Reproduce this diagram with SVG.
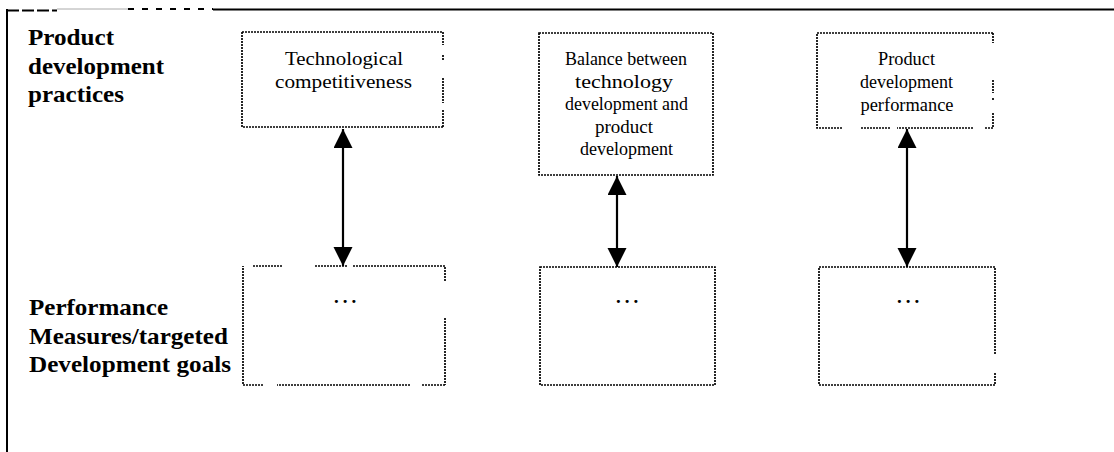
<svg xmlns="http://www.w3.org/2000/svg" width="1114" height="452" viewBox="0 0 1114 452">
  <style>
    .label { font-family: "Liberation Serif", "Times New Roman", serif; font-size: 23px; font-weight: bold; fill: #000; }
    .txt { font-family: "Liberation Serif", "Times New Roman", serif; font-size: 19px; fill: #000; text-anchor: middle; }
    .dots { font-family: "Liberation Serif", "Times New Roman", serif; font-size: 19px; font-weight: bold; fill: #000; text-anchor: middle; letter-spacing: 4px; }
    .box { fill: none; stroke: #000; stroke-width: 1.7; stroke-dasharray: 2 1; }
    .link { stroke: #000; stroke-width: 2.2; fill: none; }
    .frame { stroke: #000; stroke-width: 2; fill: none; }
  </style>
  <defs>
    <marker id="head" markerUnits="userSpaceOnUse" markerWidth="20" markerHeight="20" refX="19" refY="9.5" orient="auto-start-reverse">
      <path d="M0,0 L19,9.5 L0,19 Z" fill="#000"/>
    </marker>
  </defs>

  <rect width="1114" height="452" fill="#fff"/>

  <!-- outer frame: left and top edges only -->
  <g id="frame">
    <line class="frame" x1="7" y1="9" x2="7" y2="452"/>
    <path class="frame" d="M7,10.5 H57" stroke-dasharray="12 3" stroke-width="2.4"/>
    <line x1="57" y1="9" x2="128" y2="9" stroke="#aaa" stroke-width="1"/>
    <path class="frame" d="M128,9 H213" stroke-dasharray="6 8" stroke-width="1.6"/>
    <line class="frame" x1="213" y1="9.5" x2="1114" y2="9.5"/>
  </g>

  <!-- row labels -->
  <g id="row-practices">
    <text class="label" x="28" y="45" textLength="86" lengthAdjust="spacingAndGlyphs">Product</text>
    <text class="label" x="28" y="73.5" textLength="136" lengthAdjust="spacingAndGlyphs">development</text>
    <text class="label" x="28" y="102" textLength="96" lengthAdjust="spacingAndGlyphs">practices</text>
  </g>
  <g id="row-measures">
    <text class="label" x="29" y="315" textLength="139" lengthAdjust="spacingAndGlyphs">Performance</text>
    <text class="label" x="29" y="343.5" textLength="199" lengthAdjust="spacingAndGlyphs">Measures/targeted</text>
    <text class="label" x="29" y="372" textLength="202" lengthAdjust="spacingAndGlyphs">Development goals</text>
  </g>

  <!-- upper boxes -->
  <g id="tech-competitiveness">
    <path class="box" d="M242,32 H443 M443,32 V45 M443,55 V60 M443,78 V103 M443,110 V127 M443,127 H242 V32"/>
    <text class="txt" x="344" y="64.5" textLength="118" lengthAdjust="spacingAndGlyphs">Technological</text>
    <text class="txt" x="343.5" y="87.5" textLength="137" lengthAdjust="spacingAndGlyphs">competitiveness</text>
  </g>
  <g id="tech-product-balance">
    <path class="box" d="M539,33 H713 V175 H539 Z"/>
    <text class="txt" x="626" y="65" textLength="122" lengthAdjust="spacingAndGlyphs">Balance between</text>
    <text class="txt" x="624" y="87.5" textLength="98" lengthAdjust="spacingAndGlyphs">technology</text>
    <text class="txt" x="626.5" y="110" textLength="123" lengthAdjust="spacingAndGlyphs">development and</text>
    <text class="txt" x="624" y="132.5" textLength="58" lengthAdjust="spacingAndGlyphs">product</text>
    <text class="txt" x="626.5" y="155" textLength="93" lengthAdjust="spacingAndGlyphs">development</text>
  </g>
  <g id="pd-performance">
    <path class="box" d="M817,33 H993 M993,33 V43 M993,80 V93 M993,98 V101 M993,113 V128 M993,128 H985 M973,128 H897 M890,128 H860 M842,128 H817 V33"/>
    <text class="txt" x="906.5" y="65" textLength="57" lengthAdjust="spacingAndGlyphs">Product</text>
    <text class="txt" x="906.5" y="88" textLength="93" lengthAdjust="spacingAndGlyphs">development</text>
    <text class="txt" x="907" y="111" textLength="93" lengthAdjust="spacingAndGlyphs">performance</text>
  </g>

  <!-- lower boxes -->
  <g id="measures-1">
    <path class="box" d="M253,266 H283 M315,266 H347 M353,266 H445 V282 M445,318 V385 M445,385 H422 M410,385 H277 M263,385 H243 V266"/>
    <text class="dots" x="347" y="303">...</text>
  </g>
  <g id="measures-2">
    <path class="box" d="M540,267 H715 V385 H540 Z"/>
    <text class="dots" x="629" y="303">...</text>
  </g>
  <g id="measures-3">
    <path class="box" d="M819,267 H995 V355 M995,373 V385 H819 V267"/>
    <text class="dots" x="910" y="303">...</text>
  </g>

  <!-- two-way links between practice and measure -->
  <g id="connectors">
    <line class="link" x1="343" y1="129" x2="343" y2="266" marker-start="url(#head)" marker-end="url(#head)"/>
    <line class="link" x1="617" y1="176" x2="617" y2="267" marker-start="url(#head)" marker-end="url(#head)"/>
    <line class="link" x1="907" y1="129" x2="907" y2="267" marker-start="url(#head)" marker-end="url(#head)"/>
  </g>
</svg>
